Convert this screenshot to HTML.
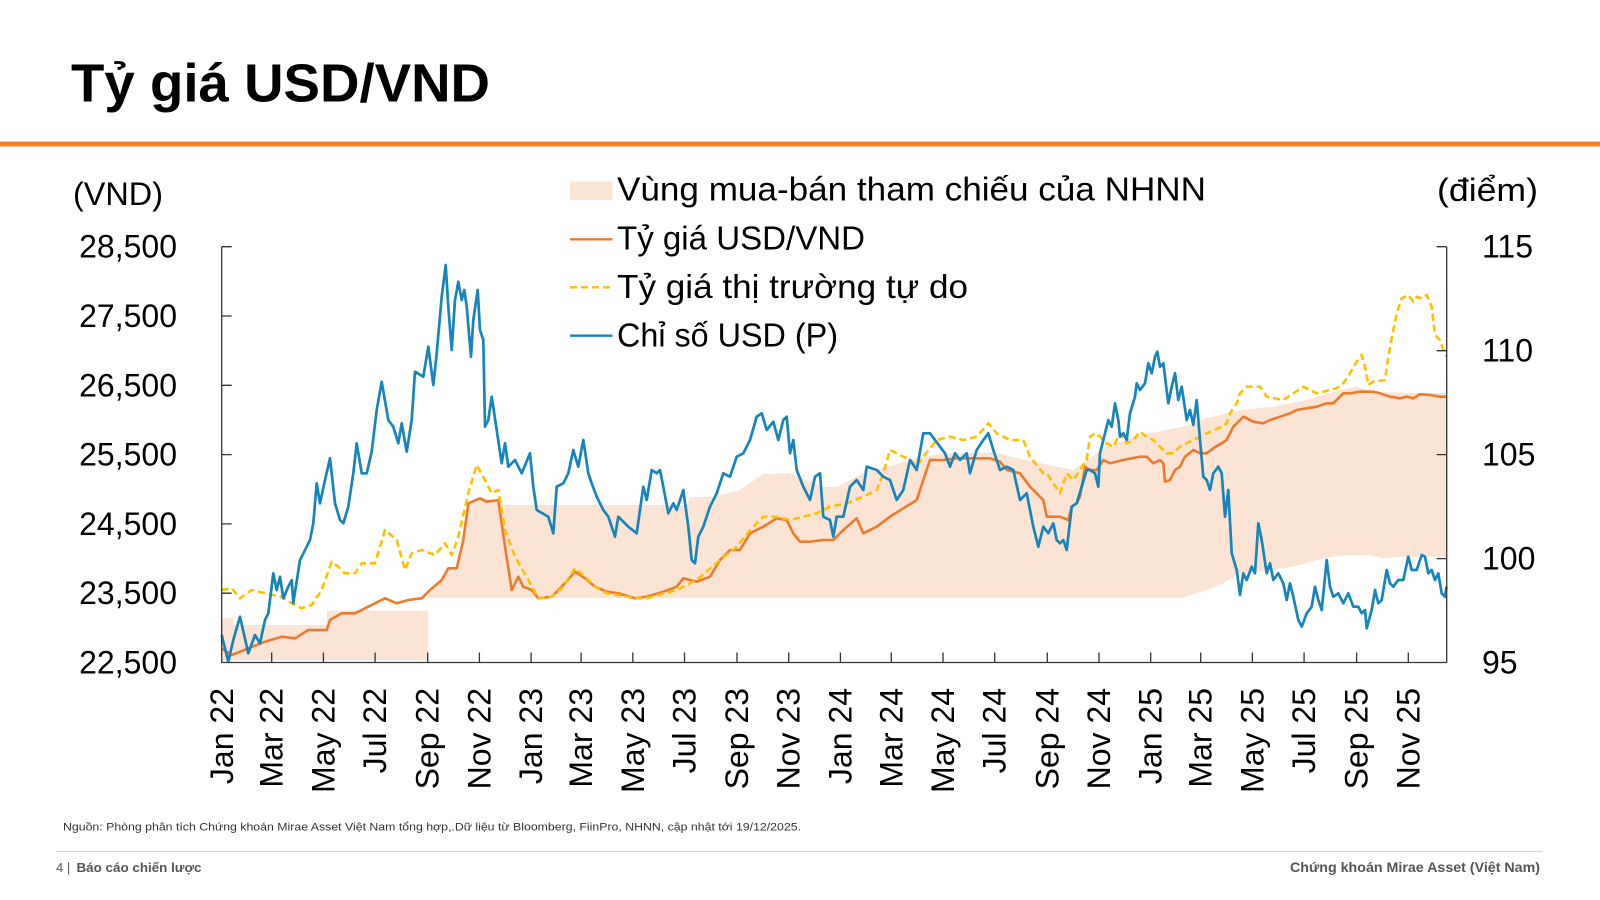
<!DOCTYPE html>
<html><head><meta charset="utf-8">
<style>
html,body{margin:0;padding:0;background:#fff;}
svg{display:block;}
text{font-family:"Liberation Sans","DejaVu Sans",sans-serif;}
</style></head>
<body>
<svg width="1600" height="900" viewBox="0 0 1600 900" xmlns="http://www.w3.org/2000/svg">
<rect width="1600" height="900" fill="#fff"/>
<!-- Title -->
<text x="71" y="101.5" font-size="54" font-weight="bold" fill="#000" textLength="419" lengthAdjust="spacingAndGlyphs">Tỷ giá USD/VND</text>
<rect x="0" y="141.5" width="1600" height="5" fill="#F58025"/>

<!-- axis unit labels -->
<text x="73" y="205" font-size="32" fill="#000" textLength="90" lengthAdjust="spacingAndGlyphs">(VND)</text>
<text x="1437" y="201" font-size="32" fill="#000" textLength="101" lengthAdjust="spacingAndGlyphs">(điểm)</text>

<!-- Band -->
<polygon fill="#FCE4D4" points="221.7,618.3 233,618.3 233,625 327,625 327,610.5 428.3,610.5 428.3,592 441.7,580 448.3,568.3 456.7,568.3 463.3,540 468.3,503.3 480,498.3 498.3,500 505,505 686.7,505 690,497 713,497 740,490 763,474 790,473 800,478 823,487 837,487 863,473 923,457 947,453 997,453 1013,457 1040,463 1073,470 1086.7,460 1106.7,446.7 1140,435 1166.7,430 1190,425 1206.7,418.3 1226.7,413.3 1240,410 1273.3,406.7 1306.7,400 1340,390 1356.7,386.7 1373.3,391.7 1406.7,393 1446.7,393 1446.7,556.7 1400,556.7 1383,558.3 1366.7,555 1350,555 1333.3,556.7 1316.7,560 1300,565 1283.3,568.3 1266.7,570 1250,573.3 1240,573.3 1223.3,583.3 1206.7,590 1190,595 1183.3,598 428.3,598 428.3,660 221.7,660"/>

<!-- Orange USD/VND -->
<polyline fill="none" stroke="#EE7B2C" stroke-width="2.6" stroke-linejoin="round" points="221.7,648.3 231.7,655 240,651.7 248.3,648.3 265,641.7 281.7,636.7 295,638.3 308.3,630 326.7,630 330,620 341.7,613.3 355,613.3 368.3,606.7 385,598.3 396.7,603.3 408.3,600 421.7,598.3 430,590 441.7,580 448.3,568.3 456.7,568.3 463.3,540 468.3,503.3 480,498.3 486.7,501.7 498.3,500 505,546.7 511.7,590 515,583.3 518.3,576.7 523.3,586.7 531.7,590 538.3,598.3 551.7,596.7 561.7,586.7 575,571.7 585,578.3 595,586.7 606.7,591.7 618.3,593.3 635,598.3 646.7,596.7 663.3,591.7 676.7,586.7 683.3,578.3 696.7,581.7 710,576.7 720,560 730,550 740,550 750,533.3 763.3,526.7 776.7,518.3 786.7,520 793.3,533.3 800,541.7 810,541.7 823.3,540 833.3,540 843.3,530 856.7,518.3 863.3,533.3 876.7,526.7 890,516.7 903.3,508.3 916.7,500 923.3,480 930,460 943.3,460 956.7,458.3 976.7,458.3 990,458.3 1000,461.7 1006.7,470 1020,473.3 1030,486.7 1043.3,500 1046.7,516.7 1060,516.7 1068.3,520 1071.7,506.7 1076.7,503.3 1080,496.7 1085,466.7 1090,470 1096.7,470 1103.3,460 1110,463.3 1123.3,460 1140,456.7 1146.7,456.7 1153.3,463.3 1160,460 1163.3,463.3 1165,481.7 1170,480 1175,470 1180,466.7 1185,456.7 1193.3,450 1200,453.3 1206.7,453.3 1213.3,448.3 1221.7,443.3 1226.7,440 1230,433.3 1233.3,426.7 1240,420 1243.3,416.7 1253.3,421.7 1263.3,423.3 1270,420 1280,416.7 1290,413.3 1296.7,410 1306.7,408.3 1316.7,406.7 1326.7,403.3 1333.3,403.3 1340,396.7 1343.3,393.3 1350,393.3 1360,391.7 1373.3,391.7 1380,393.3 1390,396.7 1400,398.3 1406.7,396.7 1413.3,398.3 1420,394.3 1430,395 1440,396.7 1446.7,396.7"/>

<!-- Yellow dashed free market -->
<polyline fill="none" stroke="#FFC000" stroke-width="2.6" stroke-dasharray="7 4" stroke-linejoin="round" points="221.7,590 231.7,588.3 240,598.3 251.7,590 265,593.3 281.7,596.7 291.7,603.3 301.7,608.3 311.7,605 321.7,590 331.7,561.7 338.3,566.7 345,573.3 355,573.3 361.7,563.3 375,563.3 385,530 396.7,540 405,570 411.7,553.3 421.7,550 435,555 445,543.3 451.7,555 458.3,536.7 468.3,493.3 476.7,465 485,480 491.7,493.3 498.3,490 505,530 515,556.7 528.3,580 538.3,598.3 551.7,596.7 561.7,588.3 575,568.3 585,576.7 595,586.7 606.7,593.3 618.3,595 635,598.3 646.7,598.3 676.7,590 696.7,580 720,560 736.7,546.7 750,530 763.3,516.7 776.7,516.7 790,520 803.3,516.7 816.7,513.3 830,506.7 846.7,503.3 863.3,496.7 876.7,490 883.3,473.3 890,450 896.7,453.3 910,460 916.7,466.7 923.3,456.7 936.7,440 950,436.7 963.3,440 976.7,436.7 988.3,423.3 996.7,433.3 1010,440 1023.3,440 1030,456.7 1043.3,473.3 1046.7,473.3 1053.3,483.3 1060,493.3 1066.7,473.3 1073.3,480 1080,470 1086.7,460 1090,436.7 1095,433.3 1100,436.7 1106.7,443.3 1113.3,446.7 1120,433.3 1126.7,443.3 1133.3,440 1140,431.7 1146.7,436.7 1153.3,440 1160,446.7 1166.7,453.3 1173.3,453.3 1180,446.7 1193.3,440 1206.7,433.3 1221.7,426.7 1226.7,423.3 1230,413.3 1236.7,403.3 1240,393.3 1246.7,386.7 1260,386.7 1266.7,396.7 1283.3,400 1293.3,393.3 1303.3,386.7 1316.7,393.3 1336.7,388.3 1343.3,383.3 1350,373.3 1356.7,361.7 1361.7,355 1365,366.7 1368.3,385 1373.3,381.7 1385,380 1388.3,356.7 1393.3,330 1396.7,313.3 1401.7,298.3 1408.3,295 1413.3,301.7 1416.7,296.7 1421.7,298.3 1426.7,295 1431.7,306.7 1435,335 1440,340 1443.3,350 1446.7,356.7"/>

<!-- Blue USD index -->
<polyline fill="none" stroke="#1784BA" stroke-width="2.7" stroke-linejoin="round" points="221.7,635 228.3,661.7 233.3,640 240,616.7 248.3,653.3 255,635 260,643.3 265,620 268.3,613.3 273.3,573.3 276.7,590 280,576.7 283.3,598.3 288.3,586.7 291.7,580 293.3,603.3 300,560 306.7,546.7 310,540 313.3,523.3 316.7,483.3 320,503.3 325,480 330,458.3 335,503.3 340,520 343.3,523.3 348.3,506.7 353.3,473.3 356.7,443.3 361.7,473.3 366.7,473.3 371.7,451.7 376.7,410 381.7,381.7 388.3,420 393.3,426.7 398.3,443.3 401.7,423.3 406.7,451.7 411.7,420 415,371.7 423.3,376.7 428.3,346.7 433.3,385 436.7,353.3 441.7,296.7 445.7,265 448.3,306.7 451.7,350 455,300 458.3,281.7 461.7,300 464.3,290 466.7,306.7 471,356.7 473.3,320 477.7,290 480,330 483.3,340 485,426.7 488.3,420 491.7,396.7 496.7,430 501.7,463.3 505,443.3 508.3,466.7 515,460 521.7,473.3 530,453.3 533.3,486.7 536.7,510 548.3,516.7 553.3,533.3 556.7,486.7 563.3,483.3 568.3,473.3 573.3,450 578.3,466.7 583.3,440 588.3,473.3 591.7,483.3 596.7,496.7 603.3,510 608.3,516.7 615,536.7 618.3,516.7 628.3,526.7 636.7,533.3 643.3,486.7 646.7,500 651.7,470 656.7,473.3 660,470 663.3,486.7 668.3,513.3 673.3,503.3 676.7,510 683.3,490 688.3,526.7 691.7,560 695,563.3 698.3,536.7 703.3,526.7 710,506.7 716.7,493.3 723.3,473.3 730,476.7 736.7,456.7 743.3,453.3 750,440 756.7,416.7 761.7,413.3 766.7,430 773.3,421.7 778.3,440 783.3,420 786.7,416.7 790,453.3 793.3,440 796.7,470 803.3,486.7 810,500 815,476.7 820,473.3 823.3,516.7 830,520 833.3,536.7 836.7,516.7 843.3,516.7 850,486.7 856.7,480 863.3,490 866.7,466.7 876.7,470 883.3,476.7 890,480 896.7,500 903.3,490 910,460 916.7,470 923.3,433.3 930,433.3 940,446.7 945,453.3 950,466.7 955,453.3 960,460 966.7,453.3 970,473.3 976.7,450 983.3,440 988.3,433.3 993.3,450 1000,470 1006.7,466.7 1013.3,470 1020,500 1026.7,493.3 1033.3,526.7 1038.3,546.7 1043.3,526.7 1048.3,533.3 1053.3,523.3 1056.7,540 1060,543.3 1063.3,540 1066.7,550 1071.7,506.7 1076.7,503.3 1081.7,486.7 1086.7,470 1090,470 1095,473.3 1098.3,486.7 1100,453.3 1105,433.3 1108.3,420 1111.7,426.7 1115,403.3 1118.3,420 1120,436.7 1123.3,433.3 1126.7,440 1130,413.3 1135,396.7 1136.7,383.3 1140,390 1145,383.3 1148.3,363.3 1151.7,373.3 1155,356.7 1157.3,351.7 1160,366.7 1163.3,363.3 1168.3,403.3 1171.7,386.7 1175,373.3 1178.3,400 1181.7,386.7 1186.7,420 1190,410 1193.3,425 1196.7,400 1200,440 1203.3,476.7 1206.7,480 1210,490 1213.3,473.3 1218.3,466.7 1221.7,473.3 1225,516.7 1228.3,490 1231.7,553.3 1236.7,570 1240,595 1243.3,573.3 1246.7,580 1251.7,566.7 1255,573.3 1258.3,523.3 1261.7,540 1266.7,573.3 1270,563.3 1273.3,580 1278.3,573.3 1283.3,583.3 1286.7,600 1290,583.3 1293.3,596.7 1298.3,620 1301.7,626.7 1306.7,613.3 1311.7,606.7 1315,586.7 1318.3,600 1321.7,610 1326.7,560 1330,586.7 1333.3,596.7 1338.3,593.3 1343.3,603.3 1348.3,593.3 1353.3,606.7 1358.3,606.7 1361.7,613.3 1365,610 1366.7,628.3 1371.7,610 1375,590 1378.3,603.3 1381.7,600 1386.7,570 1390,583.3 1393.3,586.7 1398.3,580 1403.3,580 1408.3,556.7 1411.7,570 1416.7,570 1421.7,555 1425,556.7 1428.3,573.3 1431.7,570 1435,580 1438.3,573.3 1441.7,593.3 1445,596.7 1446.5,586.7"/>

<!-- Axes -->
<g stroke="#333" stroke-width="1.3" fill="none">
<polyline points="221.7,246.7 221.7,662.5 1446.7,662.5 1446.7,246.7"/>
<!-- left ticks -->
<path d="M221.7,246.7h10 M221.7,316h10 M221.7,385.3h10 M221.7,454.6h10 M221.7,523.9h10 M221.7,593.2h10"/>
<!-- right ticks -->
<path d="M1446.7,246.7h-10 M1446.7,350.7h-10 M1446.7,454.6h-10 M1446.7,558.6h-10"/>
<!-- bottom ticks -->
<path d="M271.7,662.5v-10 M323.4,662.5v-10 M375.1,662.5v-10 M427.7,662.5v-10 M479.4,662.5v-10 M531.1,662.5v-10 M581.1,662.5v-10 M632.8,662.5v-10 M684.5,662.5v-10 M737.0,662.5v-10 M788.7,662.5v-10 M840.4,662.5v-10 M891.3,662.5v-10 M943.0,662.5v-10 M994.7,662.5v-10 M1047.3,662.5v-10 M1099.0,662.5v-10 M1150.7,662.5v-10 M1200.7,662.5v-10 M1252.4,662.5v-10 M1304.1,662.5v-10 M1356.6,662.5v-10 M1408.3,662.5v-10"/>
</g>

<!-- Left tick labels -->
<g font-size="32" fill="#000" text-anchor="end">
<text x="177" y="257.7">28,500</text>
<text x="177" y="327">27,500</text>
<text x="177" y="396.3">26,500</text>
<text x="177" y="465.6">25,500</text>
<text x="177" y="534.9">24,500</text>
<text x="177" y="604.2">23,500</text>
<text x="177" y="673.5">22,500</text>
</g>
<!-- Right tick labels -->
<g font-size="32" fill="#000">
<text x="1482" y="257.7">115</text>
<text x="1482" y="361.7">110</text>
<text x="1482" y="465.6">105</text>
<text x="1482" y="569.6">100</text>
<text x="1482" y="673.5">95</text>
</g>

<!-- X labels -->
<g font-size="32" fill="#000" text-anchor="end">
<text transform="translate(233,688) rotate(-90)">Jan 22</text>
<text transform="translate(282.7,688) rotate(-90)">Mar 22</text>
<text transform="translate(334.4,688) rotate(-90)">May 22</text>
<text transform="translate(386.1,688) rotate(-90)">Jul 22</text>
<text transform="translate(438.7,688) rotate(-90)">Sep 22</text>
<text transform="translate(490.4,688) rotate(-90)">Nov 22</text>
<text transform="translate(542.1,688) rotate(-90)">Jan 23</text>
<text transform="translate(592.1,688) rotate(-90)">Mar 23</text>
<text transform="translate(643.8,688) rotate(-90)">May 23</text>
<text transform="translate(695.5,688) rotate(-90)">Jul 23</text>
<text transform="translate(748,688) rotate(-90)">Sep 23</text>
<text transform="translate(799.7,688) rotate(-90)">Nov 23</text>
<text transform="translate(851.4,688) rotate(-90)">Jan 24</text>
<text transform="translate(902.3,688) rotate(-90)">Mar 24</text>
<text transform="translate(954,688) rotate(-90)">May 24</text>
<text transform="translate(1005.7,688) rotate(-90)">Jul 24</text>
<text transform="translate(1058.3,688) rotate(-90)">Sep 24</text>
<text transform="translate(1110,688) rotate(-90)">Nov 24</text>
<text transform="translate(1161.7,688) rotate(-90)">Jan 25</text>
<text transform="translate(1211.7,688) rotate(-90)">Mar 25</text>
<text transform="translate(1263.4,688) rotate(-90)">May 25</text>
<text transform="translate(1315.1,688) rotate(-90)">Jul 25</text>
<text transform="translate(1367.6,688) rotate(-90)">Sep 25</text>
<text transform="translate(1419.3,688) rotate(-90)">Nov 25</text>
</g>

<!-- Legend -->
<rect x="570" y="181.5" width="42.5" height="18.5" fill="#FCE4D4"/>
<line x1="570" y1="239.3" x2="612.5" y2="239.3" stroke="#EE7B2C" stroke-width="2.4"/>
<line x1="570" y1="287.3" x2="612.5" y2="287.3" stroke="#FFC000" stroke-width="2.4" stroke-dasharray="7 4"/>
<line x1="570" y1="335.7" x2="612.5" y2="335.7" stroke="#1784BA" stroke-width="2.4"/>
<g font-size="33" fill="#000">
<text x="617" y="200.5" textLength="589" lengthAdjust="spacingAndGlyphs">Vùng mua-bán tham chiếu của NHNN</text>
<text x="617" y="249.3" textLength="248" lengthAdjust="spacingAndGlyphs">Tỷ giá USD/VND</text>
<text x="617" y="298" textLength="351" lengthAdjust="spacingAndGlyphs">Tỷ giá thị trường tự do</text>
<text x="617" y="346.7" textLength="221" lengthAdjust="spacingAndGlyphs">Chỉ số USD (P)</text>
</g>

<!-- Source -->
<text x="63" y="830.5" font-size="11" fill="#333" textLength="738" lengthAdjust="spacingAndGlyphs">Nguồn: Phòng phân tích Chứng khoán Mirae Asset Việt Nam tổng hợp,.Dữ liệu từ Bloomberg, FiinPro, NHNN, cập nhật tới  19/12/2025.</text>

<!-- Footer -->
<line x1="56" y1="851.5" x2="1543" y2="851.5" stroke="#D6D6CB" stroke-width="1.2"/>
<text x="56" y="872" font-size="13" fill="#555">4 |</text>
<text x="76.5" y="872" font-size="13" font-weight="bold" fill="#555" textLength="125" lengthAdjust="spacingAndGlyphs">Báo cáo chiến lược</text>
<text x="1540" y="872" font-size="13.5" font-weight="bold" fill="#555" text-anchor="end" textLength="250" lengthAdjust="spacingAndGlyphs">Chứng khoán Mirae Asset (Việt Nam)</text>
</svg>
</body></html>
